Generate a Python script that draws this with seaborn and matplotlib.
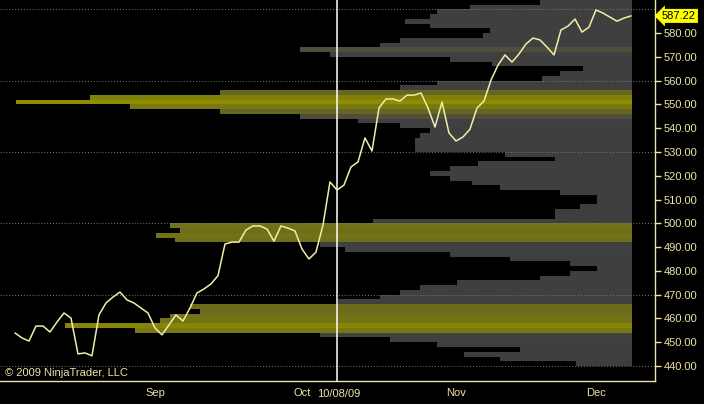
import numpy as np
import pandas as pd
import seaborn as sns
import matplotlib.pyplot as plt
from matplotlib.colors import LinearSegmentedColormap
from matplotlib.transforms import blended_transform_factory

# daily closes, one per trading day (index 0 = early Aug 2009)
close = [453.9, 451.8, 450.5, 456.8, 456.8, 454.3, 458.5, 462.3, 460.2, 445.1,
         445.5, 444.3, 461.5, 466.5, 469.0, 471.1, 467.8, 466.5, 464.4, 462.3,
         456.0, 453.1, 457.3, 461.5, 458.9, 464.4, 470.7, 472.4, 474.5, 478.0,
         491.3, 492.1, 492.1, 497.2, 498.9, 498.9, 497.6, 492.5, 498.9, 498.0,
         496.8, 489.2, 485.0, 487.9, 499.3, 517.4, 514.0, 516.1, 523.7, 525.8,
         535.9, 530.4, 548.5, 552.3, 552.3, 551.4, 553.9, 553.9, 554.8, 548.5,
         540.5, 551.0, 538.0, 534.6, 536.3, 539.6, 548.5, 551.4, 560.2, 566.5,
         570.8, 567.8, 571.2, 575.4, 577.9, 577.1, 574.1, 570.8, 581.3, 582.9,
         585.9, 580.4, 582.5, 589.7, 588.4, 586.7, 585.0, 586.3, 587.22]

month_pos = [20, 41, 63, 83]
month_labels = ["Sep", "Oct", "Nov", "Dec"]
cursor_pos = 46
cursor_label = "10/08/09"
last_price = 587.22

# volume profile: lower edge of each 2-point price bin and its relative volume
profile_price = list(range(592, 438, -2))
profile_vol = [13.1, 23.1, 27.9, 28.9, 32.4, 28.9, 20.3, 21.3, 33.1, 36.0,
               47.4, 43.1, 26.0, 20.0, 7.0, 10.3, 12.9, 27.9, 33.1, 58.9,
               77.4, 88.0, 71.7, 58.9, 47.4, 39.1, 33.1, 28.9, 30.3, 31.0,
               31.0, 31.0, 18.1, 11.0, 22.0, 26.0, 28.9, 26.0, 22.9, 18.9,
               10.3, 5.0, 5.0, 7.4, 11.0, 11.0, 37.0, 66.0, 64.6, 68.0,
               65.3, 44.6, 41.0, 26.0, 17.4, 8.9, 5.0, 8.9, 13.1, 25.0,
               30.3, 33.1, 36.0, 42.0, 63.1, 61.7, 66.0, 67.4, 81.0, 71.0,
               44.6, 34.6, 27.9, 16.0, 24.0, 18.9, 8.0]

df = pd.DataFrame({"bar": np.arange(len(close)), "close": close})
prof = pd.DataFrame({"price": profile_price, "vol": profile_vol})

sns.set_style("dark", {"axes.facecolor": "black", "figure.facecolor": "black"})
plt.rcParams["font.family"] = ["Liberation Sans", "DejaVu Sans"]
khaki = "#eee3a8"
fs = 8

fig = plt.figure(figsize=(7.04, 4.04), dpi=100)
ax = fig.add_axes([0, 23 / 404, 655 / 704, 381 / 404])
ax.set_facecolor("black")

# profile bars hang off the right end of the price bars
right_edge = len(close) - 1 + 0.14
vmax = prof.vol.max()
cmap = LinearSegmentedColormap.from_list(
    "vp", [(0, "#3e3e3e"), (0.51, "#404040"), (0.54, "#4f4f3a"),
           (0.68, "#68681f"), (1, "#8e8e00")])
ax.barh(prof.price + 1, prof.vol, left=right_edge - prof.vol, height=2,
        color=cmap(prof.vol / vmax), linewidth=0, zorder=1)

for g in range(440, 600, 30):
    ax.axhline(g, color="#7a7a7a", lw=0.7, ls=(0, (1, 2)), zorder=2)

ax.axvline(cursor_pos, color="white", lw=1.1, zorder=3)

sns.lineplot(data=df, x="bar", y="close", ax=ax, color="#f2eea8", lw=1.1,
             zorder=4)

ax.set_xlim(-2.14, 91.43)
ax.set_ylim(433.7, 593.9)

ax.yaxis.tick_right()
ax.set_yticks(np.arange(440, 590, 10))
ax.set_yticklabels([f"{v:.2f}" for v in np.arange(440, 590, 10)])
ax.set_xticks(month_pos)
ax.set_xticklabels(month_labels)
ax.tick_params(axis="both", colors=khaki, labelcolor=khaki, labelsize=fs,
               direction="out", length=4, width=1, pad=2)
ax.tick_params(axis="x", pad=1)
ax.set_xlabel("")
ax.set_ylabel("")
ax.grid(False)
for side in ["top", "left"]:
    ax.spines[side].set_visible(False)
for side in ["bottom", "right"]:
    ax.spines[side].set_visible(True)
    ax.spines[side].set_color(khaki)
    ax.spines[side].set_linewidth(1)

trans = blended_transform_factory(ax.transData, ax.transAxes)
ax.text(cursor_pos + 0.2, -0.021, cursor_label, transform=trans, ha="center",
        va="top", color=khaki, fontsize=fs)

ax.text(0.007, 0.008, "\u00a9 2009 NinjaTrader, LLC", transform=ax.transAxes,
        ha="left", va="bottom", color=khaki, fontsize=fs)

ax.annotate(f"{last_price:.2f}", xy=(1.0, last_price),
            xycoords=("axes fraction", "data"), xytext=(5, 0),
            textcoords="offset points", ha="left", va="center", color="black",
            fontsize=fs, annotation_clip=False,
            bbox=dict(boxstyle="larrow,pad=0.18", fc="#ffff00", ec="none"))

fig.savefig("out.png", dpi=100, facecolor="black")
plt.close(fig)
